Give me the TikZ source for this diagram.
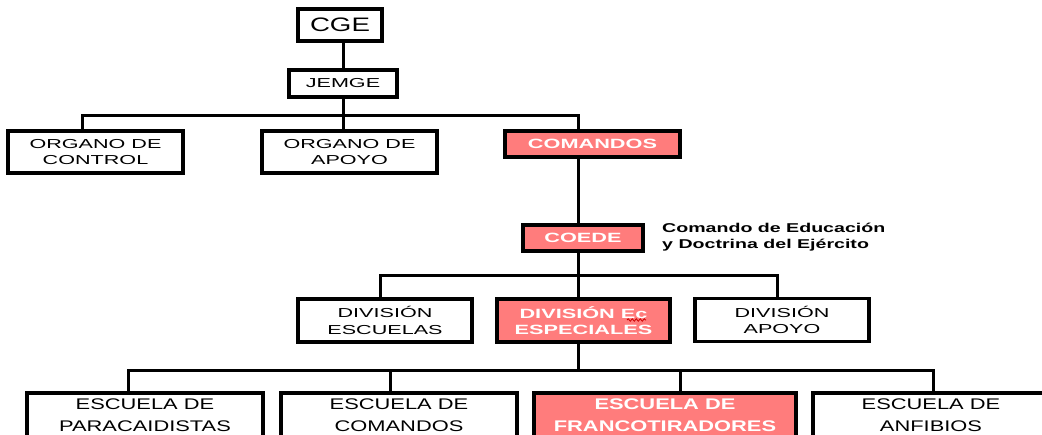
\documentclass[tikz,border=0pt]{standalone}
\usepackage{fontspec}
\usetikzlibrary{decorations.pathmorphing}
\newfontfamily\fMid[FakeStretch=1.66]{Liberation Sans}
\newfontfamily\fLow[FakeStretch=1.42]{Liberation Sans}
\newfontfamily\fRed[FakeStretch=1.62]{Liberation Sans}
\newfontfamily\fNote[FakeStretch=1.53]{Liberation Sans}
\definecolor{boxpink}{RGB}{255,124,124}
\tikzset{
  box/.style={draw=black, line width=3.3pt, fill=white, inner sep=0pt, align=center, text=black},
  redbox/.style={box, fill=boxpink, text=white},
  conn/.style={draw=black, line width=3pt},
  midtxt/.style={font=\fMid\fontsize{13}{16.4}\selectfont},
  lowtxt/.style={font=\fLow\fontsize{15.4}{21.5}\selectfont},
  redtxt/.style={font=\fRed\bfseries\fontsize{13.4}{16}\selectfont},
  redlow/.style={font=\fLow\bfseries\fontsize{15.4}{21.5}\selectfont},
}
\begin{document}
\begin{tikzpicture}[x=1pt,y=-1pt]
\useasboundingbox (0,0) rectangle (1042,434);
\clip (0,0) rectangle (1042,434);
\fill[white] (0,0) rectangle (1042,434);

% nodes
\node[box, minimum width=84pt, minimum height=32pt, font=\fLow\fontsize{19.5}{22}\selectfont] (cge) at (340,25) {CGE};
\node[box, midtxt, minimum width=108pt, minimum height=27pt] (jemge) at (343,83.5) {JEMGE};
\node[box, midtxt, minimum width=175pt, minimum height=42pt] (oc) at (95.5,152) {ORGANO DE\\CONTROL};
\node[box, midtxt, minimum width=175pt, minimum height=42pt] (oa) at (349.5,152) {ORGANO DE\\APOYO};
\node[redbox, redtxt, minimum width=175pt, minimum height=26pt] (com) at (592.5,144) {COMANDOS};
\node[redbox, redtxt, minimum width=120pt, minimum height=26pt] (coede) at (583,238) {COEDE};
\node[anchor=west, align=left, inner sep=0pt, font=\fNote\bfseries\fontsize{12.8}{15.5}\selectfont] (note) at (662,237) {Comando de Educación\\y Doctrina del Ejército};
\node[box, midtxt, minimum width=174pt, minimum height=43pt] (dve) at (385,320.5) {DIVISIÓN\\ESCUELAS};
\node[redbox, redtxt, font=\fRed\bfseries\fontsize{13.4}{15.5}\selectfont, minimum width=173pt, minimum height=43pt] (dvs) at (583.5,320.5) {DIVISIÓN Ec\\ESPECIALES};
\node[box, midtxt, minimum width=174pt, minimum height=43pt] (dva) at (782,320) {DIVISIÓN\\APOYO};
\node[box, lowtxt, minimum width=236pt, minimum height=44pt] (e1) at (145,415) {ESCUELA DE\\PARACAIDISTAS};
\node[box, lowtxt, minimum width=236pt, minimum height=44pt] (e2) at (399,415) {ESCUELA DE\\COMANDOS};
\node[redbox, redlow, minimum width=262pt, minimum height=44pt] (e3) at (665,415) {ESCUELA DE\\FRANCOTIRADORES};
\node[box, lowtxt, minimum width=236pt, minimum height=44pt] (e4) at (931,415) {ESCUELA DE\\ANFIBIOS};

% spell-check squiggle under "Ec"
\draw[red!80!black, line width=0.8pt, decorate, decoration={snake, amplitude=1.2pt, segment length=4pt}] (627,320) -- (646,320);

% bar coordinates
\coordinate (b1l) at (82,115);
\coordinate (b1r) at (578.5,115);
\coordinate (b2l) at (380,275);
\coordinate (b2r) at (777,275);
\coordinate (b3l) at (128,370);
\coordinate (b3r) at (933,370);
\coordinate (b3a) at (390,370);
\coordinate (b3b) at (680,370);

% connectors
\draw[conn] (cge.south -| jemge.north) -- (jemge.north);
\draw[conn] (jemge.south) -- (jemge.south |- oa.north);
\draw[conn] (oc.north -| b1l) -- (b1l) -- (b1r) -- (b1r |- com.north);
\draw[conn] (com.south -| b1r) -- (coede.north -| b1r);
\draw[conn] (coede.south -| b1r) -- (dvs.north -| b1r);
\draw[conn] (dve.north -| b2l) -- (b2l) -- (b2r) -- (dva.north -| b2r);
\draw[conn] (dvs.south -| b1r) -- (b1r |- b3l);
\draw[conn] (e1.north -| b3l) -- (b3l) -- (b3r) -- (e4.north -| b3r);
\draw[conn] (b3a) -- (e2.north -| b3a);
\draw[conn] (b3b) -- (e3.north -| b3b);
\end{tikzpicture}
\end{document}
